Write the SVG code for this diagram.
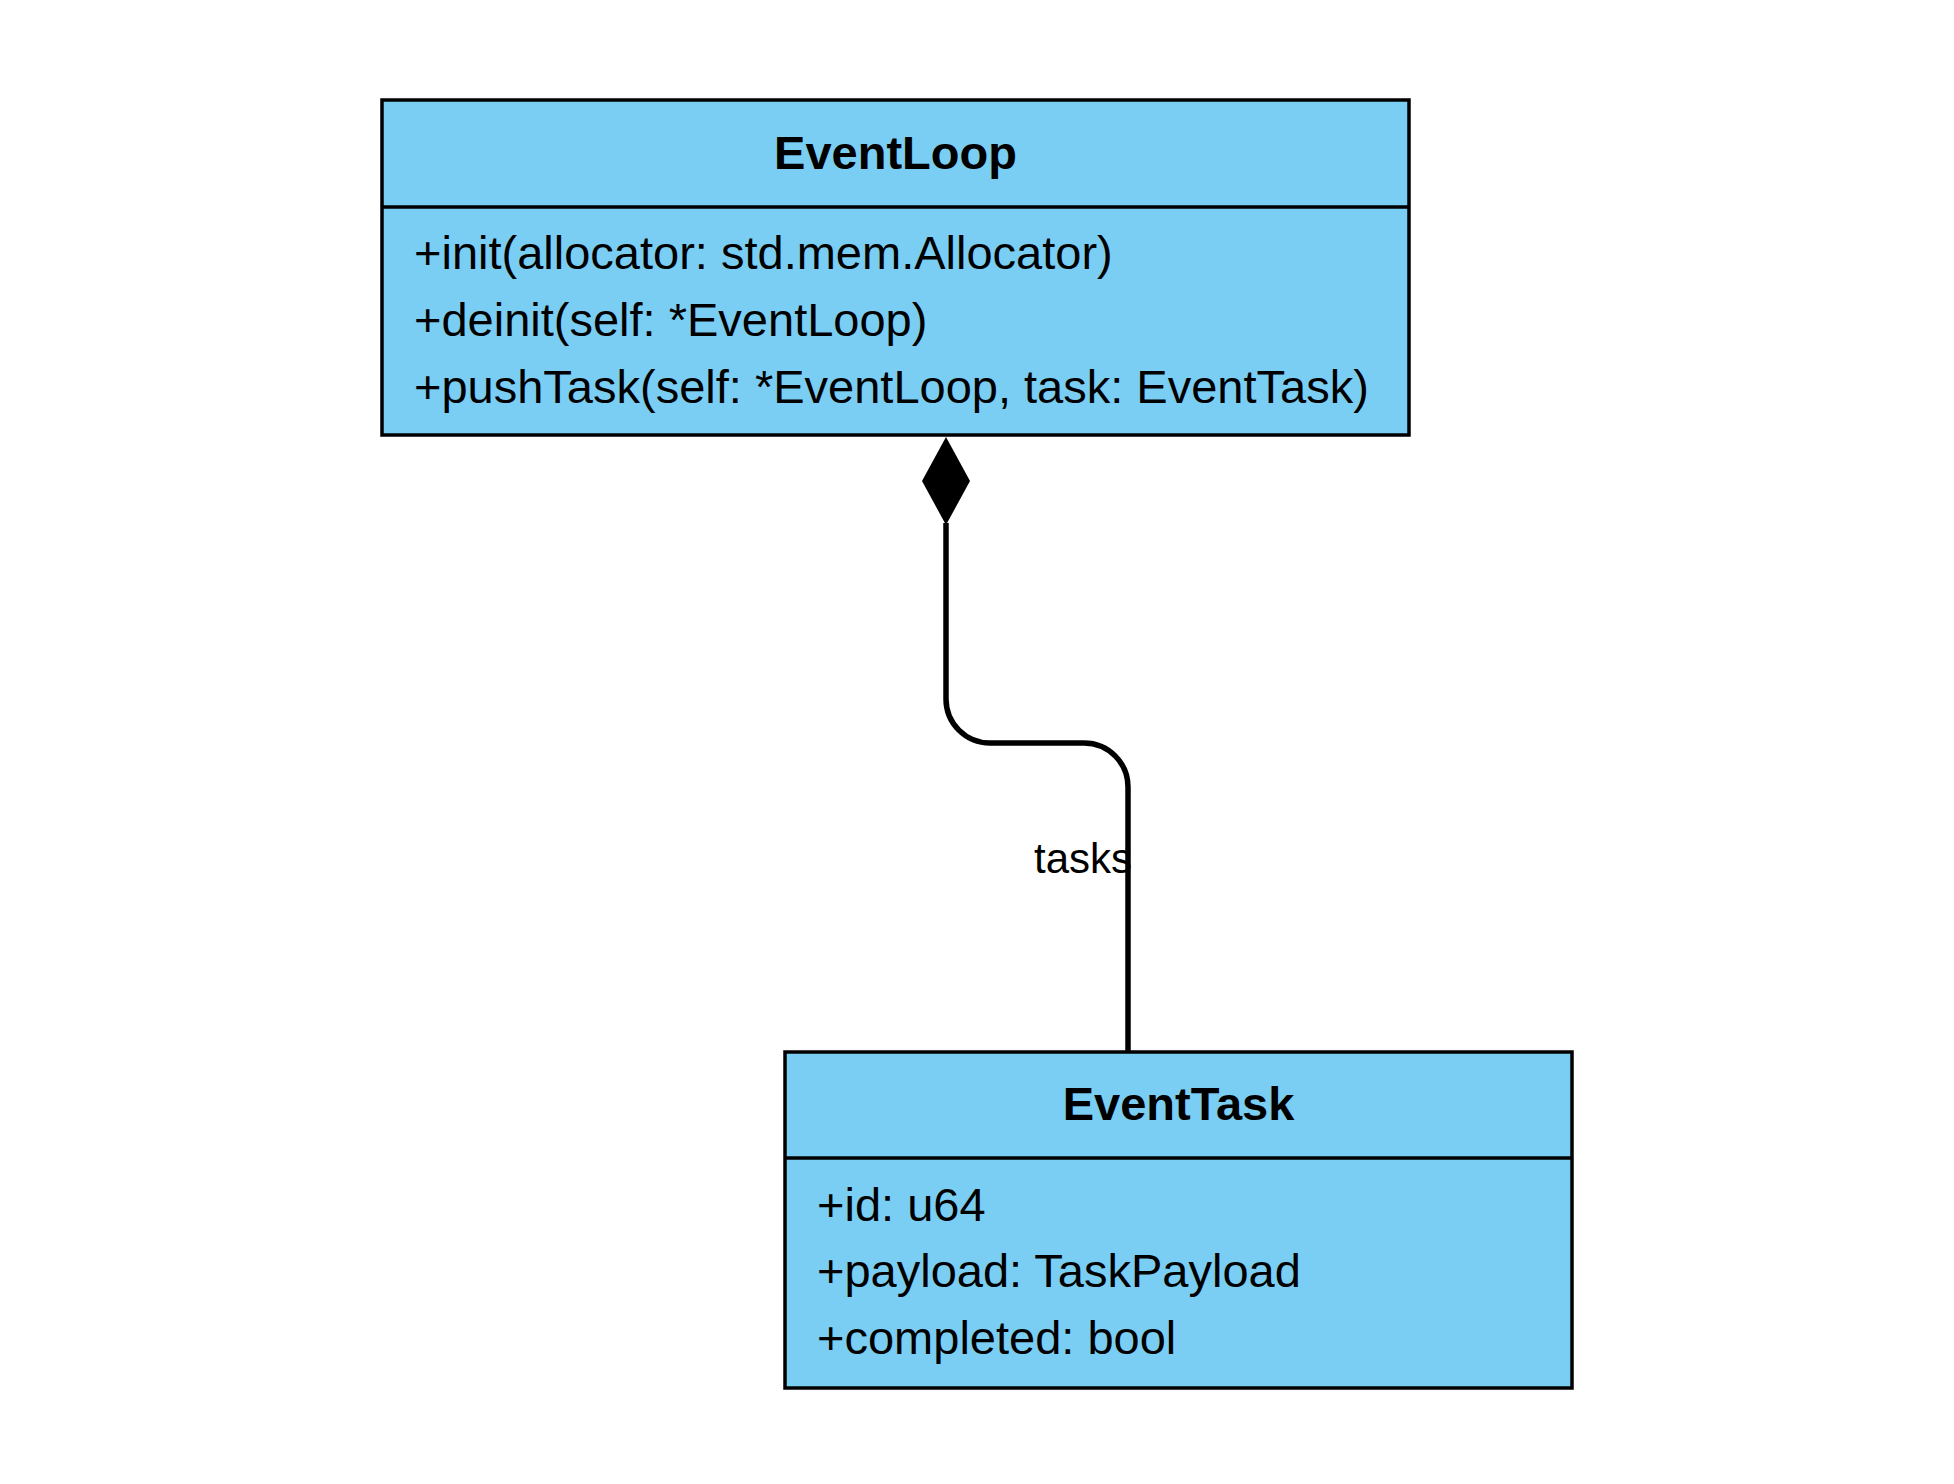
<svg xmlns="http://www.w3.org/2000/svg" width="1954" height="1484" viewBox="0 0 1954 1484">
<style>
.box{fill:#7acef4;stroke:#000;stroke-width:3.5}
.div{stroke:#000;stroke-width:3.5}
.title{font-family:"Liberation Sans",Arial,sans-serif;font-size:47px;font-weight:bold;text-anchor:middle;fill:#000}
.mem{font-family:"Liberation Sans",Arial,sans-serif;font-size:47px;fill:#000}
.lbl{font-family:"Liberation Sans",Arial,sans-serif;font-size:42px;fill:#000;text-anchor:middle}
.edge{fill:none;stroke:#000;stroke-width:5.5}
</style>
<rect width="1954" height="1484" fill="#fff"/>
<g id="connectors">
<path class="edge" d="M946,523 L946,699 A44,44 0 0 0 990,743 L1084,743 A44,44 0 0 1 1128,787 L1128,1052"/>
<polygon points="946,437 970,481 946,525 922,481" fill="#000"/>
<text class="lbl" x="1083" y="873">tasks</text>
</g>
<g id="EventLoop">
<rect class="box" x="382" y="100" width="1027" height="335"/>
<line class="div" x1="382" y1="207" x2="1409" y2="207"/>
<text class="title" x="895.5" y="169">EventLoop</text>
<text class="mem" x="414" y="269">+init(allocator: std.mem.Allocator)</text>
<text class="mem" x="414" y="336">+deinit(self: *EventLoop)</text>
<text class="mem" x="414" y="403">+pushTask(self: *EventLoop, task: EventTask)</text>
</g>
<g id="EventTask">
<rect class="box" x="785" y="1052" width="787" height="336"/>
<line class="div" x1="785" y1="1158" x2="1572" y2="1158"/>
<text class="title" x="1178.5" y="1120">EventTask</text>
<text class="mem" x="817" y="1221">+id: u64</text>
<text class="mem" x="817" y="1287">+payload: TaskPayload</text>
<text class="mem" x="817" y="1354">+completed: bool</text>
</g>
</svg>
